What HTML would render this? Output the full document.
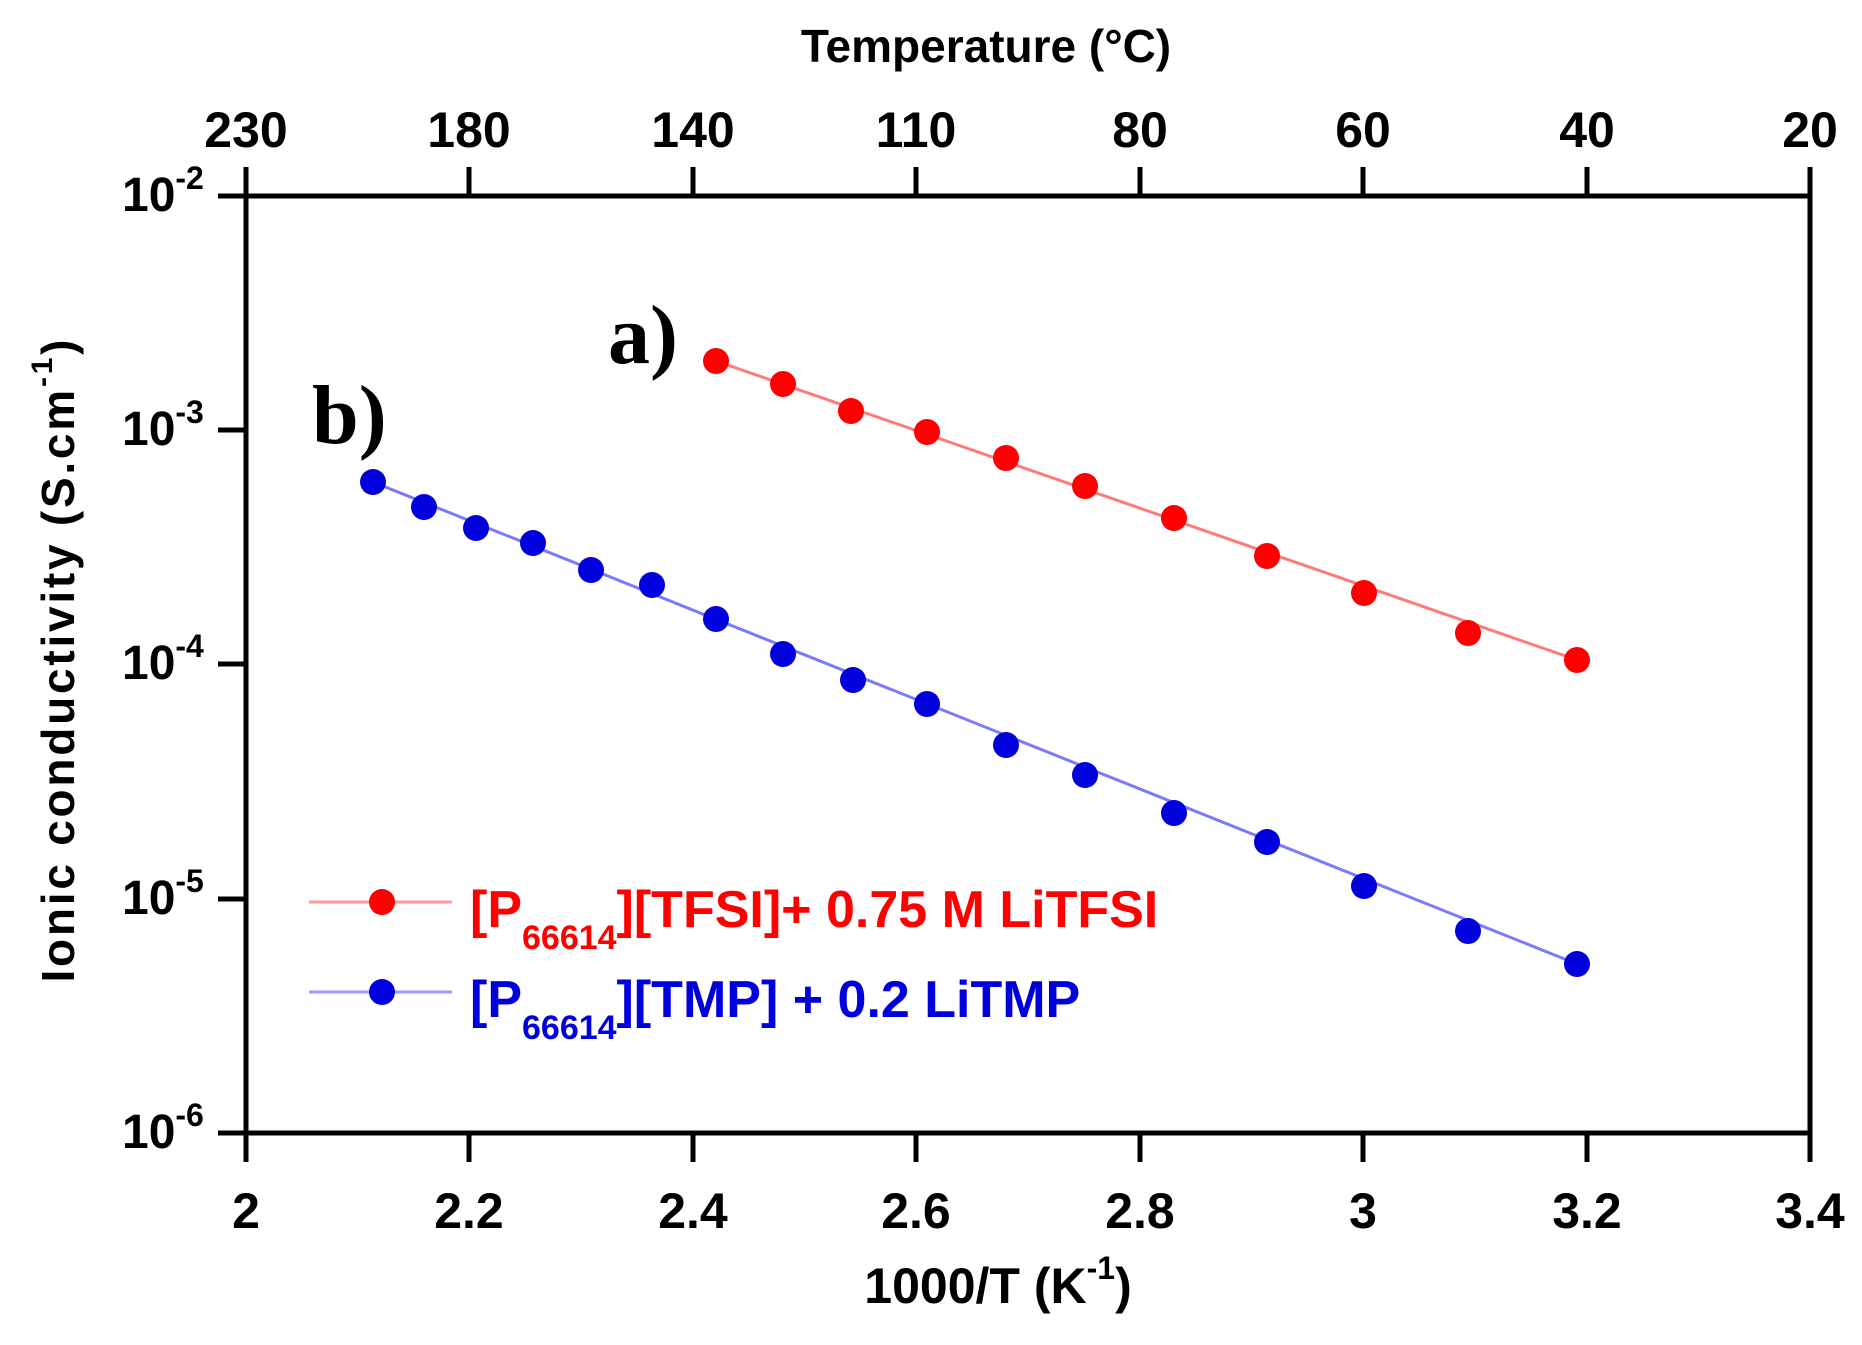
<!DOCTYPE html>
<html><head><meta charset="utf-8"><style>html,body{margin:0;padding:0;background:#fff}svg{display:block}</style></head>
<body>
<svg width="1862" height="1345" xmlns="http://www.w3.org/2000/svg" font-family="'Liberation Sans', sans-serif" font-weight="bold">
<rect width="1862" height="1345" fill="#fff"/>
<rect x="246" y="196" width="1564" height="937" fill="none" stroke="#000" stroke-width="5"/>
<g stroke="#000" stroke-width="5">
<line x1="246" y1="1133" x2="246" y2="1162"/><line x1="469" y1="1133" x2="469" y2="1162"/><line x1="693" y1="1133" x2="693" y2="1162"/><line x1="916" y1="1133" x2="916" y2="1162"/><line x1="1140" y1="1133" x2="1140" y2="1162"/><line x1="1363" y1="1133" x2="1363" y2="1162"/><line x1="1587" y1="1133" x2="1587" y2="1162"/><line x1="1810" y1="1133" x2="1810" y2="1162"/>
<line x1="246" y1="196" x2="246" y2="167"/><line x1="469" y1="196" x2="469" y2="167"/><line x1="693" y1="196" x2="693" y2="167"/><line x1="916" y1="196" x2="916" y2="167"/><line x1="1140" y1="196" x2="1140" y2="167"/><line x1="1363" y1="196" x2="1363" y2="167"/><line x1="1587" y1="196" x2="1587" y2="167"/><line x1="1810" y1="196" x2="1810" y2="167"/>
<line x1="218" y1="196" x2="246" y2="196"/><line x1="218" y1="430" x2="246" y2="430"/><line x1="218" y1="664" x2="246" y2="664"/><line x1="218" y1="899" x2="246" y2="899"/><line x1="218" y1="1133" x2="246" y2="1133"/>
</g>
<g font-size="50" text-anchor="middle">
<text x="246" y="1228">2</text><text x="469" y="1228">2.2</text><text x="693" y="1228">2.4</text><text x="916" y="1228">2.6</text><text x="1140" y="1228">2.8</text><text x="1363" y="1228">3</text><text x="1587" y="1228">3.2</text><text x="1810" y="1228">3.4</text>
<text x="246" y="147">230</text><text x="469" y="147">180</text><text x="693" y="147">140</text><text x="916" y="147">110</text><text x="1140" y="147">80</text><text x="1363" y="147">60</text><text x="1587" y="147">40</text><text x="1810" y="147">20</text>
</g>
<g font-size="48">
<text x="122" y="211">10<tspan font-size="32" dy="-22">-2</tspan></text>
<text x="122" y="445">10<tspan font-size="32" dy="-22">-3</tspan></text>
<text x="122" y="679">10<tspan font-size="32" dy="-22">-4</tspan></text>
<text x="122" y="914">10<tspan font-size="32" dy="-22">-5</tspan></text>
<text x="122" y="1148">10<tspan font-size="32" dy="-22">-6</tspan></text>
</g>
<text x="986" y="62" font-size="46" text-anchor="middle">Temperature (°C)</text>
<text x="998" y="1303" font-size="50" text-anchor="middle">1000/T (K<tspan font-size="32" dy="-24">-1</tspan><tspan dy="24">)</tspan></text>
<text transform="translate(74,661) rotate(-90)" font-size="46" text-anchor="middle" textLength="643">Ionic conductivity (S.cm<tspan font-size="30" dy="-22">-1</tspan><tspan dy="22">)</tspan></text>
<text x="608" y="363" font-family="'Liberation Serif', serif" font-size="84">a)</text>
<text x="312" y="443" font-family="'Liberation Serif', serif" font-size="84">b)</text>
<polyline fill="none" stroke="#ff7a7a" stroke-width="3" points="716,361 1577,660"/>
<g fill="#ff0000">
<circle cx="716" cy="361" r="13"/><circle cx="783" cy="384" r="13"/><circle cx="851" cy="411" r="13"/><circle cx="927" cy="432" r="13"/><circle cx="1006" cy="458" r="13"/><circle cx="1085" cy="486" r="13"/><circle cx="1174" cy="518" r="13"/><circle cx="1267" cy="556" r="13"/><circle cx="1364" cy="593" r="13"/><circle cx="1468" cy="633" r="13"/><circle cx="1577" cy="660" r="13"/>
</g>
<polyline fill="none" stroke="#7a7aff" stroke-width="3" points="373,482 1577,964"/>
<g fill="#0000dd">
<circle cx="373" cy="482" r="13"/><circle cx="424" cy="507" r="13"/><circle cx="476" cy="528" r="13"/><circle cx="533" cy="543" r="13"/><circle cx="591" cy="570" r="13"/><circle cx="652" cy="585" r="13"/><circle cx="716" cy="619" r="13"/><circle cx="783" cy="654" r="13"/><circle cx="853" cy="680" r="13"/><circle cx="927" cy="704" r="13"/><circle cx="1006" cy="745" r="13"/><circle cx="1085" cy="775" r="13"/><circle cx="1174" cy="813" r="13"/><circle cx="1267" cy="842" r="13"/><circle cx="1364" cy="886" r="13"/><circle cx="1468" cy="931" r="13"/><circle cx="1577" cy="964" r="13"/>
</g>
<line x1="309" y1="902" x2="452" y2="902" stroke="#ff9a9a" stroke-width="3"/><circle cx="382" cy="902" r="13" fill="#ff0000"/>
<line x1="309" y1="992" x2="452" y2="992" stroke="#9a9aff" stroke-width="3"/><circle cx="382" cy="992" r="13" fill="#0000dd"/>
<text x="470" y="927" font-size="52" fill="#ff0000">[P<tspan font-size="34" dy="22">66614</tspan><tspan dy="-22">][TFSI]+ 0.75 M LiTFSI</tspan></text>
<text x="470" y="1017" font-size="52" fill="#0000dd">[P<tspan font-size="34" dy="22">66614</tspan><tspan dy="-22">][TMP] + 0.2 LiTMP</tspan></text>
</svg>
</body></html>
